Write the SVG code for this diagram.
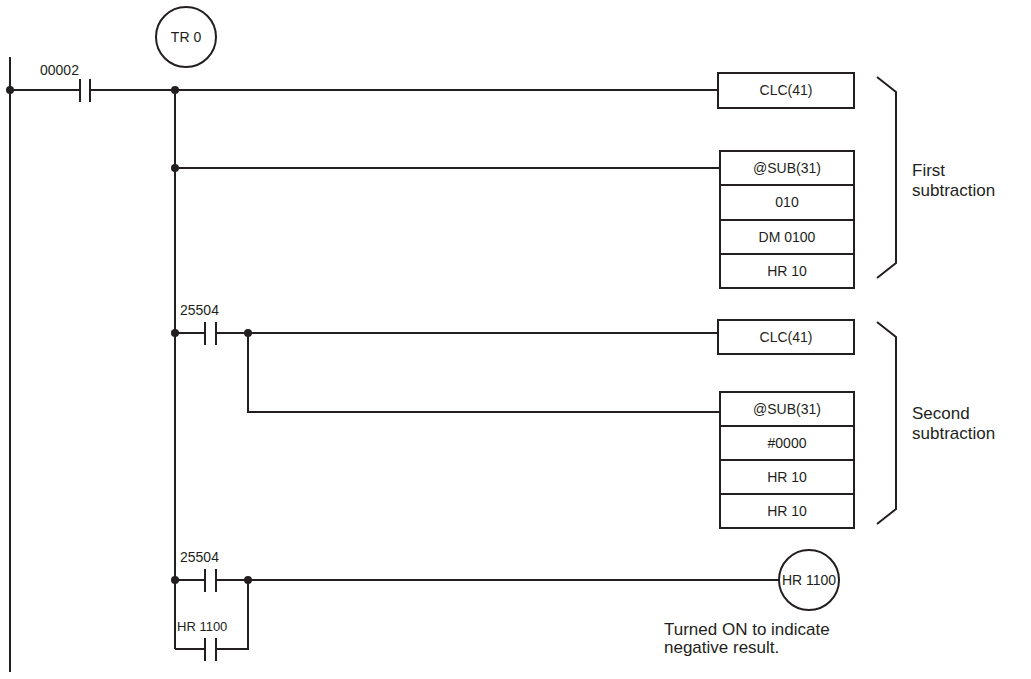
<svg xmlns="http://www.w3.org/2000/svg" width="1031" height="679" viewBox="0 0 1031 679">
<style>
.w{stroke:#231f20;stroke-width:2;fill:none}
.b{stroke:#231f20;stroke-width:2;fill:#fff}
text{font-family:"Liberation Sans",Arial,sans-serif;font-size:14px;fill:#231f20}
.c{text-anchor:middle}
.l{font-size:17px}
</style>
<rect width="1031" height="679" fill="#fff"/>
<g id="connectors">
<line class="w" x1="10" y1="57" x2="10" y2="672"/>
<polyline class="w" points="10,90 80,90"/><polyline class="w" points="90,90 718,90"/>
<line class="w" x1="80" y1="79" x2="80" y2="102"/><line class="w" x1="90" y1="79" x2="90" y2="102"/>
<line class="w" x1="175" y1="90" x2="175" y2="649"/>
<line class="w" x1="175" y1="168" x2="720" y2="168"/>
<line class="w" x1="175" y1="333" x2="205" y2="333"/><line class="w" x1="216" y1="333" x2="718" y2="333"/>
<line class="w" x1="205" y1="322" x2="205" y2="345"/><line class="w" x1="216" y1="322" x2="216" y2="345"/>
<polyline class="w" points="248,333 248,412 720,412"/>
<line class="w" x1="175" y1="580" x2="205" y2="580"/><line class="w" x1="216" y1="580" x2="779" y2="580"/>
<line class="w" x1="205" y1="569" x2="205" y2="592"/><line class="w" x1="216" y1="569" x2="216" y2="592"/>
<polyline class="w" points="175,649 205,649"/><polyline class="w" points="216,649 248,649 248,580"/>
<line class="w" x1="205" y1="638" x2="205" y2="661"/><line class="w" x1="216" y1="638" x2="216" y2="661"/>
<g fill="#231f20"><circle cx="10" cy="90" r="4"/><circle cx="175" cy="90" r="4"/><circle cx="175" cy="168" r="4"/><circle cx="175" cy="333" r="4"/><circle cx="248" cy="333" r="4"/><circle cx="175" cy="580" r="4"/><circle cx="248" cy="580" r="4"/></g>
<polyline class="w" points="877,77 896,92 896,263 877,278"/>
<polyline class="w" points="877,322 896,337 896,509 877,524"/>
</g>
<g id="tr0"><circle class="b" cx="186" cy="37" r="30"/><text class="c" x="186" y="42">TR 0</text></g>
<g id="c00002"><text x="40" y="75">00002</text></g>
<g id="c25504a"><text x="180" y="315">25504</text></g>
<g id="c25504b"><text x="180" y="562">25504</text></g>
<g id="chr1100"><text x="177" y="631" style="font-size:13px">HR 1100</text></g>
<g id="clc1"><rect class="b" x="718" y="73" width="136" height="35"/><text class="c" x="786" y="95">CLC(41)</text></g>
<g id="sub1"><rect class="b" x="720" y="151" width="134" height="137"/>
<line class="w" x1="720" y1="185" x2="854" y2="185"/><line class="w" x1="720" y1="220" x2="854" y2="220"/><line class="w" x1="720" y1="254" x2="854" y2="254"/>
<text class="c" x="787" y="173">@SUB(31)</text><text class="c" x="787" y="207">010</text><text class="c" x="787" y="242">DM 0100</text><text class="c" x="787" y="276">HR 10</text></g>
<g id="clc2"><rect class="b" x="718" y="320" width="136" height="34"/><text class="c" x="786" y="342">CLC(41)</text></g>
<g id="sub2"><rect class="b" x="720" y="392" width="134" height="136"/>
<line class="w" x1="720" y1="426" x2="854" y2="426"/><line class="w" x1="720" y1="460" x2="854" y2="460"/><line class="w" x1="720" y1="494" x2="854" y2="494"/>
<text class="c" x="787" y="414">@SUB(31)</text><text class="c" x="787" y="448">#0000</text><text class="c" x="787" y="482">HR 10</text><text class="c" x="787" y="516">HR 10</text></g>
<g id="coil"><circle class="b" cx="809" cy="580" r="30"/><text class="c" x="809" y="585">HR 1100</text></g>
<g id="labels">
<text class="l" x="912" y="176">First</text><text class="l" x="912" y="196">subtraction</text>
<text class="l" x="912" y="419">Second</text><text class="l" x="912" y="439">subtraction</text>
<text class="l" x="664" y="635">Turned ON to indicate</text><text class="l" x="664" y="653">negative result.</text>
</g>
</svg>
